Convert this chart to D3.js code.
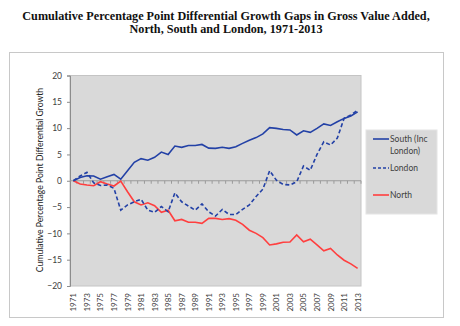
<!DOCTYPE html>
<html>
<head>
<meta charset="utf-8">
<script src="https://cdn.jsdelivr.net/npm/d3@7"></script>
<style>
body { margin: 0; background: #fff; }
svg text { font-family: Lato, "Liberation Sans", sans-serif; }
</style>
</head>
<body>
<svg id="chart"></svg>
<script>
// Data
var years = d3.range(1971, 2014);
var south = [0, 0.6, 0.95, 0.9, 0.3, 0.75, 1.2, 0.3, 1.9, 3.5, 4.2, 3.9, 4.45, 5.45, 5.0, 6.6, 6.35, 6.7, 6.7, 6.9,
    6.2, 6.15, 6.35, 6.15, 6.45, 7.1, 7.7, 8.2, 8.9, 10.1, 9.95, 9.75, 9.65, 8.7, 9.5, 9.2, 9.95, 10.8, 10.5, 11.2, 11.85, 12.3, 13.1];
var london = [0, 0.9, 1.6, -0.4, -0.9, -0.8, -1.45, -5.6, -4.6, -4.0, -3.5, -5.6, -6.0, -4.9, -5.9, -2.3, -4.0, -4.8, -5.6, -4.4,
    -5.9, -6.7, -5.45, -6.4, -6.4, -5.45, -4.6, -3.0, -1.6, 1.9, 0.1, -0.7, -0.8, -0.2, 2.8, 2.0, 5.0, 7.4, 6.8, 8.1, 11.85, 12.5, 13.4];
var north = [0, -0.63, -0.82, -0.95, -0.19, -0.63, -1.0, -0.06, -2.1, -4.0, -4.6, -4.2, -4.75, -6.0, -5.6, -7.6, -7.35, -7.9, -7.9, -8.1,
    -7.15, -7.15, -7.35, -7.2, -7.5, -8.3, -9.4, -10.0, -10.8, -12.2, -12.0, -11.7, -11.65, -10.3, -11.6, -11.1, -12.2, -13.3, -12.85, -14.1, -15.1, -15.8, -16.65];
var yTicks = [-20, -15, -10, -5, 0, 5, 10, 15, 20];
var seriesNames = ["South (Inc London)", "London", "North"];

var width = 460, height = 326;
var blue = "#2341a6", red = "#ff3f3f";

var svg = d3.select("#chart").attr("width", width).attr("height", height);

// outer frame
svg.append("rect")
    .attr("x", 9.5).attr("y", 52.5)
    .attr("width", 434).attr("height", 265)
    .attr("fill", "#fff").attr("stroke", "#c8c8c8");

// title
var title = svg.append("text")
    .attr("text-anchor", "middle")
    .style("font-family", "'Liberation Serif', serif")
    .style("font-weight", "bold")
    .style("font-size", "12.2px")
    .attr("fill", "#111");
title.append("tspan").attr("x", 226).attr("y", 20)
    .text("Cumulative Percentage Point Differential Growth Gaps in Gross Value Added,");
title.append("tspan").attr("x", 226).attr("y", 33)
    .text("North, South and London, 1971-2013");

var plotLeft = 70, plotRight = 361, plotTop = 75.5, plotBottom = 286;

var x = d3.scaleBand().domain(years).range([plotLeft, plotRight]);
var y = d3.scaleLinear().domain([-20, 20]).range([plotBottom, plotTop]);

svg.append("rect")
    .attr("x", plotLeft).attr("y", plotTop)
    .attr("width", plotRight - plotLeft).attr("height", plotBottom - plotTop)
    .attr("fill", "#d9d9d9").attr("stroke", "#c4c4c4");

// y axis
var yAxis = svg.append("g")
    .attr("transform", "translate(" + plotLeft + ",0)")
    .call(d3.axisLeft(y).tickValues(yTicks).tickSize(3).tickPadding(5));
yAxis.select(".domain").attr("stroke", "#8c8c8c");
yAxis.selectAll(".tick line").attr("stroke", "#8c8c8c");
yAxis.selectAll("text").attr("fill", "#404040").style("font-size", "8.5px");

// category axis sitting on zero
var zeroAxis = svg.append("g")
    .attr("transform", "translate(0," + y(0) + ")");
zeroAxis.append("line")
    .attr("x1", plotLeft).attr("x2", plotRight)
    .attr("stroke", "#9a9a9a");
zeroAxis.selectAll("line.tk")
    .data(years.slice(1).concat([null]))
    .enter().append("line")
    .attr("class", "tk")
    .attr("x1", function (d, i) { return plotLeft + (i + 1) * x.step(); })
    .attr("x2", function (d, i) { return plotLeft + (i + 1) * x.step(); })
    .attr("y1", 0).attr("y2", 3)
    .attr("stroke", "#9a9a9a");

// year labels at the bottom
svg.selectAll("text.year")
    .data(years.filter(function (d, i) { return i % 2 === 0; }))
    .enter().append("text")
    .attr("class", "year")
    .attr("transform", function (d) {
        return "translate(" + (x(d) + x.bandwidth() / 2 + 3) + "," + (plotBottom + 7) + ") rotate(-90)";
    })
    .attr("text-anchor", "end")
    .attr("fill", "#404040")
    .style("font-size", "8px")
    .text(function (d) { return d; });

// y axis title
svg.append("text")
    .attr("transform", "translate(43,180) rotate(-90)")
    .attr("text-anchor", "middle")
    .attr("fill", "#222")
    .style("font-size", "8.6px")
    .text("Cumulative Percentage Point Differential Growth");

var line = d3.line()
    .x(function (d, i) { return x(years[i]) + x.bandwidth() / 2; })
    .y(function (d) { return y(d); });

svg.append("path").datum(north)
    .attr("d", line).attr("fill", "none")
    .attr("stroke", red).attr("stroke-width", 1.6);
svg.append("path").datum(london)
    .attr("d", line).attr("fill", "none")
    .attr("stroke", blue).attr("stroke-width", 1.6)
    .attr("stroke-dasharray", "4,2.5");
svg.append("path").datum(south)
    .attr("d", line).attr("fill", "none")
    .attr("stroke", blue).attr("stroke-width", 1.6);

// legend
var legend = svg.append("g").attr("transform", "translate(366,130)");
legend.append("rect")
    .attr("width", 71).attr("height", 84)
    .attr("fill", "#d9d9d9").attr("stroke", "#e4e4e4");
var legendRows = [
    { name: seriesNames[0], color: blue, dash: null, y: 9 },
    { name: seriesNames[1], color: blue, dash: "3,2", y: 38 },
    { name: seriesNames[2], color: red, dash: null, y: 65 }
];
legendRows.forEach(function (r) {
    legend.append("line")
        .attr("x1", 7).attr("x2", 23)
        .attr("y1", r.y).attr("y2", r.y)
        .attr("stroke", r.color).attr("stroke-width", 1.6)
        .attr("stroke-dasharray", r.dash);
});
var lt = legend.append("text").attr("fill", "#404040").style("font-size", "8.5px");
lt.append("tspan").attr("x", 24).attr("y", 12).text("South (Inc");
lt.append("tspan").attr("x", 24).attr("y", 24).text("London)");
legend.append("text").attr("x", 24).attr("y", 41)
    .attr("fill", "#404040").style("font-size", "8.5px").text(seriesNames[1]);
legend.append("text").attr("x", 24).attr("y", 68)
    .attr("fill", "#404040").style("font-size", "8.5px").text(seriesNames[2]);
</script>
</body>
</html>
